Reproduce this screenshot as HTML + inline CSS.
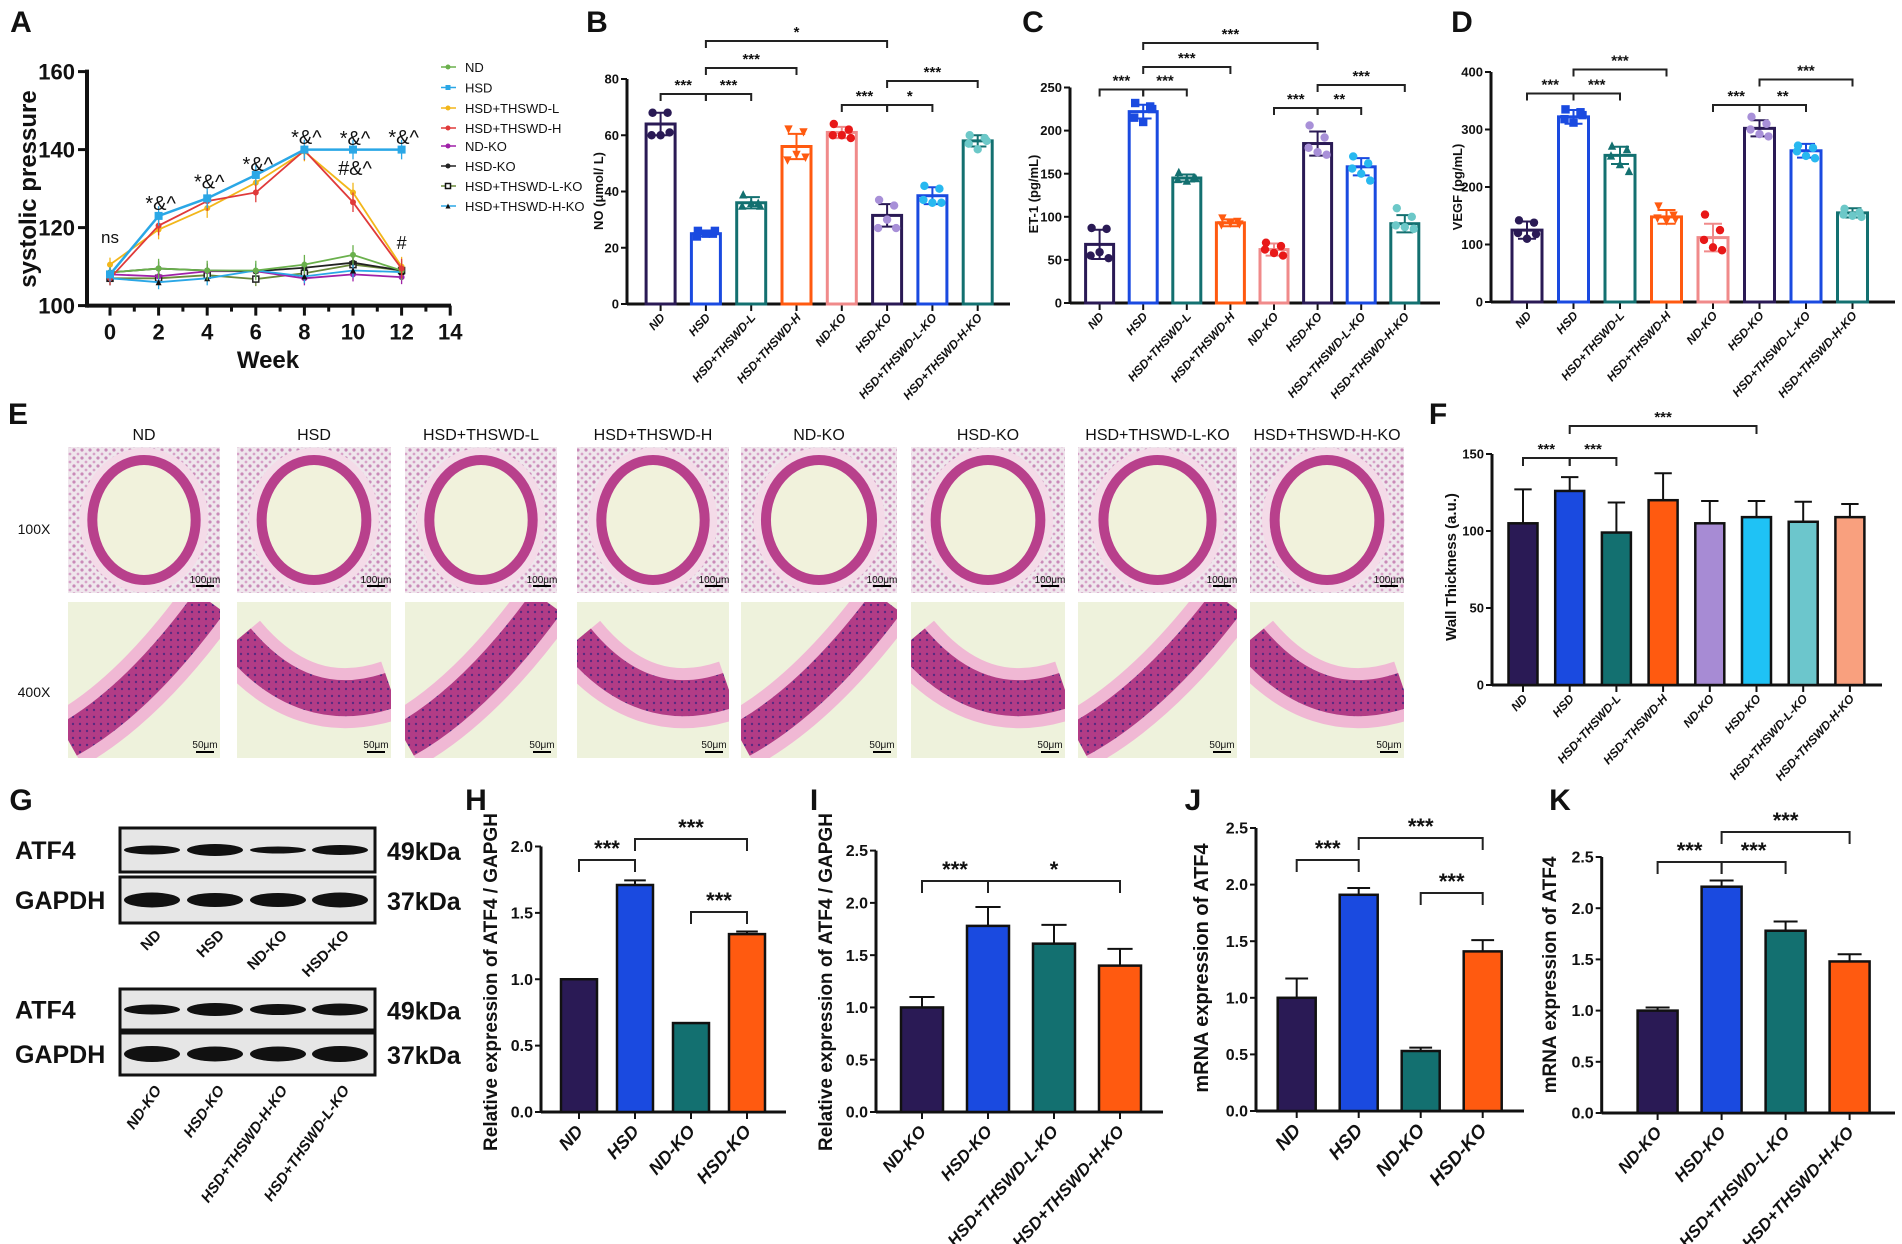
<!DOCTYPE html>
<html><head><meta charset="utf-8">
<style>
html,body{margin:0;padding:0;background:#fff;}
svg{display:block;font-family:"Liberation Sans",sans-serif;}
</style></head>
<body>
<svg id="fig" xmlns="http://www.w3.org/2000/svg" width="1902" height="1244" viewBox="0 0 1902 1244">
<defs>
<pattern id="tissue" width="8" height="8" patternUnits="userSpaceOnUse"><rect width="8" height="8" fill="#efe6ec"/><circle cx="2" cy="2" r="1.6" fill="#c98ab8"/><circle cx="6" cy="6" r="1.4" fill="#d7a2c8"/></pattern>
<pattern id="cells" width="7" height="7" patternUnits="userSpaceOnUse"><rect width="7" height="7" fill="#b23c86"/><circle cx="3" cy="3" r="1.2" fill="#5a2a80"/></pattern>
</defs>
</svg>
<script>
const S='http://www.w3.org/2000/svg';
const fig=document.getElementById('fig');
function add(parent,tag,attrs,name,inter){
  const e=document.createElementNS(S,tag);
  for(const k in attrs) e.setAttribute(k,attrs[k]);
  
  
  parent.appendChild(e);return e;
}
function txt(parent,x,y,s,opt,name){
  const a={x:x,y:y,'font-size':opt.size||12,'font-weight':opt.bold===false?'normal':'bold','text-anchor':opt.anchor||'middle','fill':opt.fill||'#111'};
  if(opt.italic) a['font-style']='italic';
  if(opt.rot!==undefined) a.transform='rotate('+opt.rot+' '+x+' '+y+')';
  const t=add(parent,'text',a,name,false);t.textContent=s;return t;
}
function marker(parent,kind,x,y,r,color,name){
  if(kind==='sq') return add(parent,'rect',{x:x-r,y:y-r,width:2*r,height:2*r,fill:color},name,false);
  if(kind==='sqo') return add(parent,'rect',{x:x-r,y:y-r,width:2*r,height:2*r,fill:'#fff',stroke:color,'stroke-width':1.5},name,false);
  if(kind==='tri') return add(parent,'polygon',{points:(x)+','+(y-r)+' '+(x-r)+','+(y+r)+' '+(x+r)+','+(y+r),fill:color},name,false);
  if(kind==='itri') return add(parent,'polygon',{points:(x)+','+(y+r)+' '+(x-r)+','+(y-r)+' '+(x+r)+','+(y-r),fill:color},name,false);
  return add(parent,'circle',{cx:x,cy:y,r:r,fill:color},name,false);
}

/* ================= DATA ================= */
const aWeeks=[0,2,4,6,8,10,12];
const aTicks=[100,120,140,160];
const aXTicks=[0,2,4,6,8,10,12,14];
const aND=[108.5,109.5,109,109,110.5,113,109];
const aHSD=[108,123,127.5,133.5,140,140,140];
const aL=[110.5,119.5,125,131.5,139.5,129,110];
const aH=[107,120.5,126.8,129,139.8,126.5,109.5];
const aNDKO=[108,107.5,108.8,108.8,107,108,107.3];
const aHSDKO=[108.5,109.5,109,108.8,109.7,111,109];
const aLKO=[107,107,107.8,106.8,108.3,110.5,109];
const aHKO=[107,106,107,109,107.5,109,108.6];
const aSeriesNames=['ND','HSD','HSD+THSWD-L','HSD+THSWD-H','ND-KO','HSD-KO','HSD+THSWD-L-KO','HSD+THSWD-H-KO'];
const aAnnots=['ns','*&^','*&^','*&^','*&^','*&^','*&^'];
const aAnnotVals=[116,124.5,130,134.5,141.5,141.2,141.5];

const groups8=['ND','HSD','HSD+THSWD-L','HSD+THSWD-H','ND-KO','HSD-KO','HSD+THSWD-L-KO','HSD+THSWD-H-KO'];
const bVals=[64,25,36,56,61,31.5,38.5,58];
const bErr=[4,1,2,4.5,2,4,3,2];
const bPts=[[68,68,60,60,61],[26,25,24,25,26],[39,36,35,36,35],[62,61,51,53,52],[64,62,60,60,59],[37,35,27,30,27],[42,41,37,36,36],[60,59,57,55,58]];
const bTicks=[0,20,40,60,80];
const cVals=[68,222,145,93,62,185,158,92];
const cErr=[17,8,4,4,7,14,10,10];
const cPts=[[87,86,55,59,52],[232,228,215,210,225],[152,146,144,142,145],[98,94,90,92,91],[70,66,62,58,55],[206,192,180,175,172],[170,162,156,150,142],[110,100,90,88,86]];
const cTicks=[0,50,100,150,200,250];
const dVals=[125,322,255,148,112,302,263,155];
const dErr=[15,12,15,12,24,14,12,8];
const dPts=[[142,138,120,110,118],[335,330,318,312,325],[272,266,255,240,228],[166,150,145,140,143],[152,125,108,95,90],[322,310,300,292,288],[272,268,262,254,250],[162,156,152,150,148]];
const dTicks=[0,100,200,300,400];

const fVals=[105,126,99,120,105,109,106,109];
const fErr=[22,9,19.5,17.5,14.5,10.5,13,8.5];
const fTicks=[0,50,100,150];

const hCats=['ND','HSD','ND-KO','HSD-KO'];
const hVals=[1.0,1.71,0.67,1.34];
const hErr=[0,0.035,0,0.02];
const hTicks=[0,0.5,1.0,1.5,2.0];
const iCats=['ND-KO','HSD-KO','HSD+THSWD-L-KO','HSD+THSWD-H-KO'];
const iVals=[1.0,1.78,1.61,1.40];
const iErr=[0.1,0.18,0.18,0.16];
const jCats=['ND','HSD','ND-KO','HSD-KO'];
const jVals=[1.0,1.91,0.53,1.41];
const jErr=[0.17,0.06,0.03,0.1];
const kCats=['ND-KO','HSD-KO','HSD+THSWD-L-KO','HSD+THSWD-H-KO'];
const kVals=[1.0,2.21,1.78,1.48];
const kErr=[0.03,0.06,0.09,0.07];
const t25=[0,0.5,1.0,1.5,2.0,2.5];

[['A',21,32],['B',597,32],['C',1033,32],['D',1462,32],['E',18,424],['F',1438,424],['G',21,810],['H',476,810],['I',814,810],['J',1193,810],['K',1560,810]].forEach(p=>{
  txt(fig,p[1],p[2],p[0],{size:30,anchor:'middle'},'panel-label-'+p[0].toLowerCase());
});

(function(){
  const g=add(fig,'g',{},'panel-a-line-chart',false);
  const X=w=>110+24.3*w, Y=v=>305.6-(v-100)*3.9;
  add(g,'line',{x1:87,y1:Y(100),x2:451,y2:Y(100),stroke:'#111','stroke-width':4},'x-axis',false);
  add(g,'line',{x1:87,y1:Y(100)+2,x2:87,y2:Y(160)-2,stroke:'#111','stroke-width':4},'y-axis',false);
  aTicks.forEach(v=>{add(g,'line',{x1:78,y1:Y(v),x2:87,y2:Y(v),stroke:'#111','stroke-width':3},'y-tick',false);
    txt(g,75,Y(v)+8,String(v),{size:22,anchor:'end'},'y-tick-label');});
  for(let w=0;w<=14;w++){const big=w%2===0;add(g,'line',{x1:X(w),y1:Y(100),x2:X(w),y2:Y(100)+(big?10:6),stroke:'#111','stroke-width':3},'x-tick',false);}
  aXTicks.forEach(w=>txt(g,X(w),Y(100)+34,String(w),{size:22},'x-tick-label'));
  txt(g,268,368,'Week',{size:24},'x-axis-title');
  txt(g,36,189,'systolic pressure',{size:24,rot:-90},'y-axis-title');
  const series=[[aND,'#6ab04c','circ'],[aHSD,'#2aa7e6','sq'],[aL,'#f2b61a','circ'],[aH,'#e03a3a','circ'],[aNDKO,'#a021a8','circ'],[aHSDKO,'#222','circ'],[aLKO,'#6a8a3a','sqo'],[aHKO,'#2aa7e6','tri']];
  const order=[6,4,5,7,0,2,3,1];
  order.forEach(si=>{
    const s=series[si];
    const pts=aWeeks.map((w,i)=>X(w)+','+Y(s[0][i])).join(' ');
    add(g,'polyline',{points:pts,fill:'none',stroke:s[1],'stroke-width':si===1?2.5:1.8},'line-'+aSeriesNames[si].toLowerCase().replace(/\+/g,'-'),false);
    aWeeks.forEach((w,i)=>{
      const v=s[0][i];const e=(si<4&&i>0)?2.5:1.8;
      add(g,'line',{x1:X(w),y1:Y(v-e),x2:X(w),y2:Y(v+e),stroke:s[1],'stroke-width':1.3},'error-bar',false);
      marker(g,si===6?'sqo':s[2],X(w),Y(v),si===1?4:3,si===6?'#222':(si===7?'#111':s[1]),'point');
    });
  });
  aWeeks.forEach((w,i)=>txt(g,X(w)+(i===0?0:2),Y(aAnnotVals[i]),aAnnots[i],{size:i===0?17:20,bold:false},'annotation'));
  txt(g,X(10)+2,Y(133.5),'#&^',{size:20,bold:false},'annotation');
  txt(g,X(12),Y(114.5),'#',{size:18,bold:false},'annotation');
  const ly=[67,87.5,108,128,146,166,186,206];
  aSeriesNames.forEach((n,i)=>{
    const s=series[i];
    add(g,'line',{x1:441,y1:ly[i],x2:456,y2:ly[i],stroke:s[1],'stroke-width':1.5},'legend-line',false);
    marker(g,i===6?'sqo':s[2],448,ly[i],2.5,i>=6?'#111':s[1],'legend-marker');
    txt(g,465,ly[i]+5,n,{size:13,bold:false,anchor:'start'},'legend-entry');
  });
})();

const outline8=['#2a1a55','#1a4ae0','#137070','#ff5a10','#f08a8a','#2a1a55','#1a4ae0','#137070'];
const dot8=['#2a1a55','#1a4ae0','#137070','#ff5a10','#e81818','#a890d8','#28b8f0','#6cc8c8'];
const shape8=['circ','sq','tri','itri','circ','circ','circ','circ'];
function barPanel(c){
  const g=add(fig,'g',{},c.name,false);
  const Y=v=>c.zero-(v/c.vmax)*(c.zero-c.top);
  const X=i=>c.x0+c.step*i;
  add(g,'line',{x1:c.ax,y1:c.zero,x2:c.end,y2:c.zero,stroke:'#111','stroke-width':c.aw},'x-axis',false);
  add(g,'line',{x1:c.ax,y1:c.zero,x2:c.ax,y2:Y(c.ticks[c.ticks.length-1]),stroke:'#111','stroke-width':c.aw},'y-axis',false);
  c.ticks.forEach(v=>{add(g,'line',{x1:c.ax-6,y1:Y(v),x2:c.ax,y2:Y(v),stroke:'#111','stroke-width':c.aw-1},'y-tick',false);
    txt(g,c.ax-8,Y(v)+c.tsize*0.35,c.tfmt?v.toFixed(1):String(v),{size:c.tsize,anchor:'end'},'y-tick-label');});
  c.vals.forEach((v,i)=>{
    const x=X(i);
    add(g,'line',{x1:x,y1:c.zero,x2:x,y2:c.zero+7,stroke:'#111','stroke-width':c.aw-1},'x-tick',false);
    if(c.err[i]>0){
      const y1=c.dots?Y(v-c.err[i]):Y(v);
      add(g,'line',{x1:x,y1:y1,x2:x,y2:Y(v+c.err[i]),stroke:c.dots?c.outline[i]:'#111','stroke-width':2},'error-bar',false);
      add(g,'line',{x1:x-c.w*0.3,y1:Y(v+c.err[i]),x2:x+c.w*0.3,y2:Y(v+c.err[i]),stroke:c.dots?c.outline[i]:'#111','stroke-width':2},'error-cap',false);
      if(c.dots) add(g,'line',{x1:x-c.w*0.3,y1:Y(v-c.err[i]),x2:x+c.w*0.3,y2:Y(v-c.err[i]),stroke:c.outline[i],'stroke-width':2},'error-cap',false);
    }
    add(g,'rect',{x:x-c.w/2,y:Y(v),width:c.w,height:c.zero-Y(v),fill:c.dots?'none':c.fill[i],stroke:c.dots?c.outline[i]:'#111','stroke-width':c.dots?3:2.5},'bar-'+c.cats[i].toLowerCase().replace(/\+/g,'-'),true);
    if(c.dots){
      const offs=[-8,7,-9,0,9];
      c.pts[i].forEach((p,k)=>marker(g,shape8[i],x+offs[k],Y(p),4.2,c.dotc[i],'data-point'));
    }
    txt(g,x+5,c.zero+c.ly,c.cats[i],{size:c.lsize,italic:true,anchor:'end',rot:-48},'x-tick-label');
  });
  c.brackets.forEach(b=>{
    const xa=X(b[0]),xb=X(b[1]);
    add(g,'path',{d:'M'+xa+','+(b[2]+b[4])+' V'+b[2]+' H'+xb+' V'+(b[2]+b[4]),fill:'none',stroke:'#222','stroke-width':2},'significance-bracket',false);
    txt(g,(xa+xb)/2,b[2]-4,b[3],{size:c.ssize},'significance-label');
  });
  txt(g,c.ytx,c.yty,c.ytitle,{size:c.ytsize,rot:-90},'y-axis-title');
  return g;
}
barPanel({name:'panel-b-no',ax:627,zero:304,top:79,vmax:80,ticks:bTicks,x0:660.6,step:45.3,w:29,end:1010,aw:3,vals:bVals,err:bErr,pts:bPts,dots:true,outline:outline8,dotc:dot8,cats:groups8,tsize:13,lsize:12,ly:14,ssize:15,
  brackets:[[0,1,94,'***',7],[1,2,94,'***',7],[1,3,68,'***',7],[1,5,41,'*',7],[4,5,105,'***',7],[5,6,105,'*',7],[5,7,81,'***',7]],ytitle:'NO (μmol/ L)',ytx:603,yty:191,ytsize:13});
barPanel({name:'panel-c-et1',ax:1070,zero:303,top:87.5,vmax:250,ticks:cTicks,x0:1099.6,step:43.6,w:28,end:1440,aw:3,vals:cVals,err:cErr,pts:cPts,dots:true,outline:outline8,dotc:dot8,cats:groups8,tsize:13,lsize:12,ly:14,ssize:15,
  brackets:[[0,1,89.5,'***',7],[1,2,89.5,'***',7],[1,3,67,'***',7],[1,5,43,'***',7],[4,5,108,'***',7],[5,6,108,'**',7],[5,7,85,'***',7]],ytitle:'ET-1 (pg/mL)',ytx:1038,yty:194,ytsize:13});
barPanel({name:'panel-d-vegf',ax:1491,zero:302,top:72,vmax:400,ticks:dTicks,x0:1527,step:46.5,w:30,end:1895,aw:3,vals:dVals,err:dErr,pts:dPts,dots:true,outline:outline8,dotc:dot8,cats:groups8,tsize:13,lsize:12,ly:14,ssize:15,
  brackets:[[0,1,93.5,'***',7],[1,2,93.5,'***',7],[1,3,69.5,'***',7],[4,5,105,'***',7],[5,6,105,'**',7],[5,7,79.5,'***',7]],ytitle:'VEGF (pg/mL)',ytx:1462,yty:187,ytsize:13});
barPanel({name:'panel-f-wall-thickness',ax:1492,zero:685,top:454,vmax:150,ticks:fTicks,x0:1523,step:46.7,w:29,end:1882,aw:3,vals:fVals,err:fErr,dots:false,fill:['#2a1a55','#1a4ae0','#137070','#ff5a10','#a78bd4','#1fc2f5','#6cc6cc','#f9a07e'],cats:groups8,tsize:13,lsize:12,ly:14,ssize:15,
  brackets:[[0,1,458,'***',8],[1,2,458,'***',8],[1,5,426,'***',8]],ytitle:'Wall Thickness (a.u.)',ytx:1456,yty:567,ytsize:15});
barPanel({name:'panel-h-atf4-protein',ax:541,zero:1112,top:846.5,vmax:2.0,ticks:hTicks,tfmt:true,x0:579,step:56,w:36,end:786,aw:3,vals:hVals,err:hErr,dots:false,fill:['#2a1a55','#1a4ae0','#137070','#ff5a10'],cats:hCats,tsize:16,lsize:18,ly:20,ssize:22,
  brackets:[[0,1,860,'***',12],[1,3,839,'***',12],[2,3,912,'***',12]],ytitle:'Relative expression of ATF4 / GAPGH',ytx:497,yty:982,ytsize:19});
barPanel({name:'panel-i-atf4-protein-ko',ax:876,zero:1112,top:850.6,vmax:2.5,ticks:t25,tfmt:true,x0:922,step:66,w:42,end:1163,aw:3,vals:iVals,err:iErr,dots:false,fill:['#2a1a55','#1a4ae0','#137070','#ff5a10'],cats:iCats,tsize:16,lsize:17,ly:20,ssize:22,
  brackets:[[0,1,881,'***',12],[1,3,881,'*',12]],ytitle:'Relative expression of ATF4 / GAPGH',ytx:832,yty:982,ytsize:19});
barPanel({name:'panel-j-atf4-mrna',ax:1256,zero:1111,top:828,vmax:2.5,ticks:t25,tfmt:true,x0:1296.7,step:62,w:38,end:1524,aw:3,vals:jVals,err:jErr,dots:false,fill:['#2a1a55','#1a4ae0','#137070','#ff5a10'],cats:jCats,tsize:16,lsize:19,ly:20,ssize:22,
  brackets:[[0,1,860,'***',12],[1,3,838,'***',12],[2,3,893,'***',12]],ytitle:'mRNA expression of ATF4',ytx:1208,yty:968,ytsize:20});
barPanel({name:'panel-k-atf4-mrna-ko',ax:1601.7,zero:1113,top:857,vmax:2.5,ticks:t25,tfmt:true,x0:1657.6,step:64,w:40,end:1895,aw:3,vals:kVals,err:kErr,dots:false,fill:['#2a1a55','#1a4ae0','#137070','#ff5a10'],cats:kCats,tsize:16,lsize:17,ly:20,ssize:22,
  brackets:[[0,1,862,'***',12],[1,2,862,'***',12],[1,3,832,'***',12]],ytitle:'mRNA expression of ATF4',ytx:1556,yty:975,ytsize:19});

(function(){
  const g=add(fig,'g',{},'panel-e-histology',false);
  const defs=fig.querySelector('defs');
  const cols=[[68,220,'ND'],[237,391,'HSD'],[405,557,'HSD+THSWD-L'],[577,729,'HSD+THSWD-H'],[741,897,'ND-KO'],[911,1065,'HSD-KO'],[1078,1237,'HSD+THSWD-L-KO'],[1250,1404,'HSD+THSWD-H-KO']];
  txt(g,34,534,'100X',{size:14,bold:false},'row-label-100x');
  txt(g,34,697,'400X',{size:14,bold:false},'row-label-400x');
  cols.forEach((c,i)=>{
    const w=c[1]-c[0],cx=(c[0]+c[1])/2;
    txt(g,cx,440,c[2],{size:16,bold:false},'column-title');
    const cp=add(defs,'clipPath',{id:'clip400-'+i},'clip-path',false);
    add(cp,'rect',{x:c[0],y:602,width:w,height:156},'clip-rect',false);
    add(g,'rect',{x:c[0],y:447,width:w,height:146,fill:'url(#tissue)'},'image-100x',false);
    add(g,'ellipse',{cx:cx,cy:520,rx:w*0.37,ry:64,fill:'#eef0d8',stroke:'#f4dbe8','stroke-width':16},'vessel-adventitia',false);
    add(g,'ellipse',{cx:cx,cy:520,rx:w*0.34,ry:60,fill:'#f1f2dc',stroke:'#b8408c','stroke-width':10},'vessel-wall',false);
    add(g,'line',{x1:c[1]-24,y1:586,x2:c[1]-6,y2:586,stroke:'#000','stroke-width':2},'scale-bar',false);
    txt(g,c[1]-15,583,'100μm',{size:10,bold:false},'scale-label');
    const g4=add(g,'g',{'clip-path':'url(#clip400-'+i+')'},'image-400x-group',false);
    add(g4,'rect',{x:c[0],y:602,width:w,height:156,fill:'#eef2dc'},'image-400x',false);
    const flip=i%2===0;
    const d=flip?'M'+(c[0])+','+(740)+' Q'+(cx-5)+',700 '+(c[1]-10)+',602':'M'+c[0]+',640 Q'+(cx-10)+',720 '+c[1]+',690';
    add(g4,'path',{d:d,fill:'none',stroke:'#f0b8d4','stroke-width':60},'adventitia-400x',false);
    add(g4,'path',{d:d,fill:'none',stroke:'url(#cells)','stroke-width':36},'vessel-wall-400x',false);
    add(g,'line',{x1:c[1]-24,y1:752,x2:c[1]-6,y2:752,stroke:'#000','stroke-width':2},'scale-bar',false);
    txt(g,c[1]-15,748,'50μm',{size:10,bold:false},'scale-label');
  });
})();

(function(){
  const g=add(fig,'g',{},'panel-g-western-blot',false);
  const lanes=[152,215,278,340];
  const set1=['ND','HSD','ND-KO','HSD-KO'];
  const set2=['ND-KO','HSD-KO','HSD+THSWD-H-KO','HSD+THSWD-L-KO'];
  const boxes=[[828,872,'ATF4','49kDa',[7,10,5,8]],[877,923,'GAPDH','37kDa',[13,12,12,13]],[989,1030,'ATF4','49kDa',[8,11,9,10]],[1033,1075,'GAPDH','37kDa',[14,13,13,14]]];
  boxes.forEach(b=>{
    add(g,'rect',{x:120,y:b[0],width:255,height:b[1]-b[0],fill:'#e6e6e6',stroke:'#111','stroke-width':3},'blot-box',false);
    const cy=(b[0]+b[1])/2;
    lanes.forEach((x,i)=>add(g,'ellipse',{cx:x,cy:cy,rx:28,ry:b[4][i]/2+1,fill:'#111'},'protein-band',false));
    txt(g,15,cy+9,b[2],{size:25,anchor:'start'},'protein-label');
    txt(g,387,cy+10,b[3],{size:25,anchor:'start'},'molecular-weight-label');
  });
  lanes.forEach((x,i)=>{txt(g,x+10,936,set1[i],{size:15,anchor:'end',rot:-45},'lane-label');
    txt(g,x+10,1090,set2[i],{size:15,italic:true,anchor:'end',rot:-55},'lane-label');});
})();
</script>
</body></html>
